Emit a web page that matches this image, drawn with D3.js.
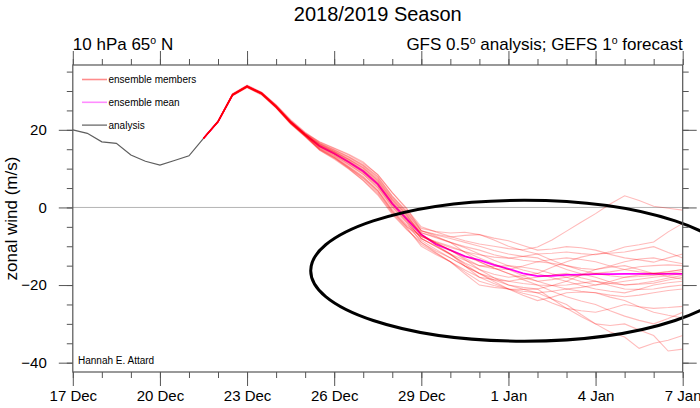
<!DOCTYPE html>
<html>
<head>
<meta charset="utf-8">
<script src="https://cdn.jsdelivr.net/npm/d3@7"></script>
<style>
	body { margin: 0; background: #fff; }
	svg { display: block; font-family: "Liberation Sans", Arial, Helvetica, sans-serif; }
</style>
</head>
<body>
<div id="chart"></div>
<script>
//	data: 12-hourly series
const stepHours = 12;
const analysisStart = Date.UTC(2018, 11, 17, 0);
const forecastStart = Date.UTC(2018, 11, 21, 12);

const analysis = [20.0, 19.1, 16.9, 16.5, 13.5, 11.9, 10.9, 12.1, 13.3, 17.8];

const ensembleMean = [17.8, 22.1, 29.0, 31.2, 29.4, 26.0, 22.0, 18.8, 15.8, 13.9, 11.7, 9.3, 6.0, 1.0, -3.0, -7.0,
	-9.5, -11.0, -12.6, -13.6, -14.8, -15.8, -17.0, -17.7, -17.6, -17.4, -17.3, -17.2, -17.2, -17.1, -17.1, -17.1, -17.1, -17.1];

const members = [
	[17.8, 22.2, 29.3, 31.5, 29.7, 26.5, 22.6, 19.4, 16.8, 15.2, 13.5, 11.4, 8.5, 3.8, -0.5, -5.0, -6.3, -7.5, -8.6, -9.4, -10.0, -10.6, -10.9, -10.2, -8.4, -6.1, -3.8, -1.6, 0.9, 3.0, 1.8, 0.3, -0.2, -0.7],
	[17.8, 22.0, 28.9, 31.0, 29.2, 25.8, 21.7, 18.5, 15.2, 13.2, 10.6, 8.0, 4.5, -0.5, -4.5, -7.4, -9.0, -10.3, -11.4, -12.2, -12.8, -13.1, -12.6, -12.0, -11.8, -11.5, -11.9, -12.2, -11.4, -10.2, -9.6, -8.9, -6.3, -4.1],
	[17.8, 22.3, 29.2, 31.3, 29.6, 26.3, 22.4, 19.2, 16.6, 14.9, 13.1, 11.0, 8.0, 3.0, -1.0, -5.4, -6.2, -6.6, -6.4, -7.0, -7.9, -8.6, -9.8, -11.0, -10.7, -10.1, -10.4, -11.0, -12.1, -13.0, -13.5, -14.1, -13.0, -12.0],
	[17.8, 22.1, 29.0, 31.1, 29.3, 25.9, 21.8, 18.6, 15.6, 13.7, 11.3, 8.9, 5.5, 0.5, -3.5, -8.0, -10.1, -12.2, -14.3, -16.0, -17.2, -18.0, -17.6, -17.0, -15.4, -14.0, -12.8, -12.0, -11.8, -11.5, -10.8, -10.1, -11.6, -13.0],
	[17.8, 22.2, 29.1, 31.3, 29.5, 26.2, 22.2, 19.0, 16.4, 14.7, 12.8, 10.6, 7.5, 2.5, -1.5, -6.0, -6.9, -7.6, -7.2, -7.0, -8.4, -10.0, -11.1, -12.0, -13.6, -15.0, -15.7, -16.0, -15.1, -14.0, -13.3, -13.0, -13.8, -14.5],
	[17.8, 22.0, 28.8, 30.9, 29.1, 25.7, 21.6, 18.3, 15.0, 12.9, 10.3, 7.6, 4.3, -1.0, -5.0, -7.5, -9.2, -11.0, -13.1, -15.0, -15.8, -16.0, -15.1, -14.0, -14.4, -15.0, -16.2, -17.0, -16.6, -16.0, -15.3, -15.0, -14.8, -15.0],
	[17.8, 22.1, 28.9, 31.0, 29.2, 25.8, 21.8, 18.6, 15.4, 13.4, 11.0, 8.5, 5.0, 0.0, -4.0, -9.0, -11.2, -13.0, -15.1, -17.0, -18.7, -20.0, -20.6, -21.0, -20.1, -19.0, -17.4, -16.0, -15.4, -15.0, -16.0, -17.0, -16.6, -16.0],
	[17.8, 22.2, 29.1, 31.2, 29.4, 26.0, 22.0, 18.8, 16.0, 14.2, 12.1, 9.7, 6.5, 1.5, -2.5, -6.5, -7.8, -9.0, -10.1, -11.0, -12.2, -13.0, -13.6, -14.0, -13.4, -13.0, -13.4, -14.0, -15.1, -16.0, -16.6, -17.0, -16.5, -16.0],
	[17.8, 22.0, 29.0, 31.2, 29.3, 25.9, 21.9, 18.7, 16.2, 14.4, 12.4, 10.2, 7.0, 2.0, -2.0, -7.0, -9.1, -11.0, -12.5, -14.0, -15.6, -17.0, -18.1, -19.0, -18.6, -18.0, -17.4, -17.0, -17.6, -18.0, -17.8, -17.5, -17.0, -16.5],
	[17.8, 22.1, 29.0, 31.1, 29.4, 26.1, 22.1, 18.9, 15.7, 13.8, 11.5, 9.0, 5.7, 0.7, -3.3, -8.0, -10.0, -12.0, -13.6, -15.0, -15.2, -15.0, -15.4, -16.0, -17.1, -18.0, -19.1, -20.0, -19.6, -19.0, -18.5, -18.0, -17.6, -17.0],
	[17.8, 22.2, 29.2, 31.4, 29.6, 26.3, 22.3, 19.1, 16.9, 15.3, 13.7, 11.7, 8.4, 3.8, -0.2, -6.0, -7.1, -8.0, -9.0, -10.0, -11.1, -12.0, -12.6, -13.0, -14.6, -16.0, -17.1, -18.0, -19.2, -20.0, -19.6, -19.0, -18.2, -17.5],
	[17.8, 22.0, 28.9, 31.0, 29.2, 25.8, 21.7, 18.4, 14.8, 12.7, 10.0, 7.0, 3.5, -1.5, -5.5, -9.5, -11.8, -14.0, -16.1, -18.0, -18.6, -19.0, -18.4, -18.0, -17.4, -17.0, -18.1, -19.0, -19.6, -20.0, -19.8, -19.5, -18.7, -18.0],
	[17.8, 22.1, 29.0, 31.2, 29.4, 26.0, 22.0, 18.7, 15.8, 13.9, 11.7, 9.3, 6.0, 1.0, -3.0, -7.5, -8.8, -10.0, -11.4, -13.0, -14.6, -16.0, -17.6, -19.0, -20.1, -21.0, -20.6, -20.0, -19.1, -18.0, -17.4, -17.0, -17.8, -18.5],
	[17.8, 22.2, 29.1, 31.3, 29.5, 26.1, 22.1, 18.9, 16.3, 14.5, 12.5, 10.3, 7.2, 2.2, -1.8, -6.5, -7.6, -9.0, -10.4, -12.0, -13.6, -15.0, -16.1, -17.0, -18.1, -19.0, -20.1, -21.0, -21.6, -22.0, -21.1, -20.0, -19.4, -19.0],
	[17.8, 22.0, 28.9, 31.1, 29.3, 25.9, 21.8, 18.5, 15.1, 13.0, 10.4, 7.8, 4.2, -0.8, -4.8, -8.5, -10.8, -13.0, -15.1, -17.0, -18.1, -19.0, -19.6, -20.0, -20.1, -20.0, -19.5, -19.0, -20.1, -21.0, -21.1, -21.0, -20.4, -20.0],
	[17.8, 22.1, 29.0, 31.2, 29.4, 26.0, 21.9, 18.7, 15.9, 14.1, 11.9, 9.6, 6.3, 1.3, -2.7, -7.0, -9.1, -11.0, -13.4, -16.0, -18.1, -20.0, -21.1, -22.0, -21.6, -21.0, -21.6, -22.0, -22.6, -23.0, -22.6, -22.0, -21.4, -21.0],
	[17.8, 22.0, 28.8, 30.9, 29.0, 25.6, 21.5, 18.2, 14.7, 12.5, 9.9, 6.9, 3.2, -1.8, -5.8, -9.0, -11.6, -14.0, -16.6, -19.0, -20.1, -21.0, -22.1, -23.0, -24.6, -26.0, -26.6, -27.0, -26.1, -25.0, -25.6, -26.0, -25.8, -25.5],
	[17.8, 22.2, 29.2, 31.3, 29.5, 26.2, 22.2, 19.0, 16.5, 14.8, 13.0, 10.8, 7.8, 2.8, -1.2, -6.0, -7.4, -9.0, -11.6, -14.0, -15.6, -17.0, -18.6, -20.0, -21.6, -23.0, -24.1, -25.0, -26.6, -28.0, -29.1, -30.0, -28.6, -27.0],
	[17.8, 22.1, 29.0, 31.1, 29.3, 25.9, 21.9, 18.6, 15.5, 13.5, 11.1, 8.6, 5.2, 0.2, -3.8, -8.0, -9.9, -12.0, -14.6, -17.0, -19.1, -21.0, -22.6, -24.0, -23.1, -22.0, -21.8, -22.0, -23.1, -24.0, -25.6, -27.0, -27.8, -28.5],
	[17.8, 22.1, 29.1, 31.2, 29.4, 26.0, 22.0, 18.8, 16.1, 14.3, 12.3, 10.0, 6.8, 1.8, -2.2, -7.0, -9.6, -12.0, -15.1, -18.0, -19.6, -21.0, -21.6, -22.0, -23.6, -25.0, -27.6, -30.0, -32.1, -33.4, -36.3, -35.0, -34.2, -33.0],
	[17.8, 22.0, 28.9, 31.0, 29.2, 25.7, 21.6, 18.4, 14.9, 12.8, 10.2, 7.4, 3.8, -1.2, -5.2, -10.0, -12.1, -14.0, -17.1, -20.0, -20.6, -21.0, -21.1, -21.0, -23.6, -26.0, -28.1, -30.0, -30.4, -30.0, -31.6, -33.0, -37.0, -36.5]
];

const legendLabels = ['ensemble members', 'ensemble mean', 'analysis'];
const yMajorTicks = [-40, -20, 0, 20];

//	the hand-drawn ring: centre date, centre value, half width in days, half height in m/s
const ringCentre = [Date.UTC(2019, 0, 1, 13), -16.3];
const ringHalf = [7.35, 18.15];

const W = 700, H = 408;
const frame = { left: 72.8, right: 682.7, top: 65, bottom: 372 };
const dayMs = 864e5;

const svg = d3.select('#chart')
	.append('svg')
	.attr('width', W)
	.attr('height', H);

const x = d3.scaleUtc()
	.domain([new Date(Date.UTC(2018, 11, 17)), new Date(Date.UTC(2019, 0, 7))])
	.range([frame.left, frame.right]);

const y = d3.scaleLinear()
	.domain([-42.4, 36.7])
	.range([frame.bottom, frame.top]);

const timeAt = (start, i) => new Date(start + i * stepHours * 3600e3);

const lineFrom = start => d3.line()
	.x((d, i) => x(timeAt(start, i)))
	.y(d => y(d));

//	zero line
svg.append('line')
	.attr('x1', frame.left).attr('x2', frame.right)
	.attr('y1', y(0)).attr('y2', y(0))
	.attr('stroke', '#b4b4b4')
	.attr('stroke-width', 1);

//	analysis
svg.append('path')
	.attr('d', lineFrom(analysisStart)(analysis))
	.attr('fill', 'none')
	.attr('stroke', '#5e5e5e')
	.attr('stroke-width', 1.2);

//	mean under the members so the early part reads red
svg.append('path')
	.attr('d', lineFrom(forecastStart)(ensembleMean))
	.attr('fill', 'none')
	.attr('stroke', '#ff00ff')
	.attr('stroke-width', 1.8);

svg.append('g')
	.selectAll('path')
	.data(members)
	.enter()
	.append('path')
	.attr('d', lineFrom(forecastStart))
	.attr('fill', 'none')
	.attr('stroke', 'red')
	.attr('stroke-opacity', 0.27)
	.attr('stroke-width', 1.1);

//	ring
const cx = x(new Date(ringCentre[0]));
svg.append('ellipse')
	.attr('cx', cx)
	.attr('cy', y(ringCentre[1]))
	.attr('rx', x(new Date(ringCentre[0] + ringHalf[0] * dayMs)) - cx)
	.attr('ry', y(ringCentre[1]) - y(ringCentre[1] + ringHalf[1]))
	.attr('fill', 'none')
	.attr('stroke', '#000')
	.attr('stroke-width', 3);

//	axes, ticks outward as in NCL
const xStart = x.domain()[0], xEnd = x.domain()[1];
const majorDays = d3.utcDay.range(xStart, new Date(+xEnd + 1), 3);
const minorDays = d3.utcDay.range(xStart, new Date(+xEnd + 1));
const yMinor = d3.range(-40, 36, 5);
const axisColor = '#555';

const styleAxis = g => {
	g.select('.domain').remove();
	g.selectAll('line').attr('stroke', axisColor);
	g.selectAll('text').attr('fill', '#000');
};

const fmt = d3.utcFormat('%-d %b');

svg.append('g')
	.attr('transform', `translate(0,${frame.bottom})`)
	.call(d3.axisBottom(x).tickValues(minorDays).tickSize(6).tickFormat(''))
	.call(styleAxis);
svg.append('g')
	.attr('transform', `translate(0,${frame.bottom})`)
	.call(d3.axisBottom(x).tickValues(majorDays).tickSize(14).tickPadding(4).tickFormat(fmt))
	.call(styleAxis)
	.selectAll('text').attr('font-size', 15);

svg.append('g')
	.attr('transform', `translate(0,${frame.top})`)
	.call(d3.axisTop(x).tickValues(minorDays).tickSize(6).tickFormat(''))
	.call(styleAxis);
svg.append('g')
	.attr('transform', `translate(0,${frame.top})`)
	.call(d3.axisTop(x).tickValues(majorDays).tickSize(14).tickFormat(''))
	.call(styleAxis);

svg.append('g')
	.attr('transform', `translate(${frame.left},0)`)
	.call(d3.axisLeft(y).tickValues(yMinor).tickSize(6).tickFormat(''))
	.call(styleAxis);
svg.append('g')
	.attr('transform', `translate(${frame.left},0)`)
	.call(d3.axisLeft(y).tickValues(yMajorTicks).tickSize(14).tickPadding(12).tickFormat(d3.format('d')))
	.call(styleAxis)
	.selectAll('text').attr('font-size', 15);

svg.append('g')
	.attr('transform', `translate(${frame.right},0)`)
	.call(d3.axisRight(y).tickValues(yMinor).tickSize(6).tickFormat(''))
	.call(styleAxis);
svg.append('g')
	.attr('transform', `translate(${frame.right},0)`)
	.call(d3.axisRight(y).tickValues(yMajorTicks).tickSize(14).tickFormat(''))
	.call(styleAxis);

//	frame
svg.append('rect')
	.attr('x', frame.left).attr('y', frame.top)
	.attr('width', frame.right - frame.left)
	.attr('height', frame.bottom - frame.top)
	.attr('fill', 'none')
	.attr('stroke', axisColor)
	.attr('stroke-width', 1.2);

//	legend
const legendColors = ['rgba(255,0,0,0.45)', 'rgba(255,0,255,0.45)', '#5e5e5e'];
const legend = svg.append('g')
	.selectAll('g')
	.data(legendLabels)
	.enter()
	.append('g')
	.attr('transform', (d, i) => `translate(82,${79.5 + i * 22.8})`);
legend.append('line')
	.attr('x1', 0).attr('x2', 25)
	.attr('stroke', (d, i) => legendColors[i])
	.attr('stroke-width', (d, i) => i === 2 ? 1.2 : 1.6);
legend.append('text')
	.attr('x', 26.5)
	.attr('dy', '0.35em')
	.attr('font-size', 10)
	.text(d => d);

svg.append('text')
	.attr('x', 78).attr('y', 364)
	.attr('font-size', 10)
	.text('Hannah E. Attard');

//	titles
svg.append('text')
	.attr('x', (frame.left + frame.right) / 2)
	.attr('y', 21)
	.attr('text-anchor', 'middle')
	.attr('font-size', 20)
	.text('2018/2019 Season');

//	NCL style superscript "o" for degrees
const degText = (sel, parts, size) => {
	const lift = size * 0.36;
	parts.forEach((p, i) => {
		sel.append('tspan').attr('dy', i ? lift : 0).text(p);
		if (i < parts.length - 1) {
			sel.append('tspan').attr('font-size', size * 0.62).attr('dy', -lift).text('o');
		}
	});
};

svg.append('text')
	.attr('x', frame.left).attr('y', 50)
	.attr('font-size', 17)
	.call(degText, ['10 hPa 65', ' N'], 17);

svg.append('text')
	.attr('x', frame.right).attr('y', 50)
	.attr('text-anchor', 'end')
	.attr('font-size', 17)
	.call(degText, ['GFS 0.5', ' analysis; GEFS 1', ' forecast'], 17);

svg.append('text')
	.attr('transform', `translate(17,${(frame.top + frame.bottom) / 2}) rotate(-90)`)
	.attr('text-anchor', 'middle')
	.attr('font-size', 17)
	.text('zonal wind (m/s)');
</script>
</body>
</html>
